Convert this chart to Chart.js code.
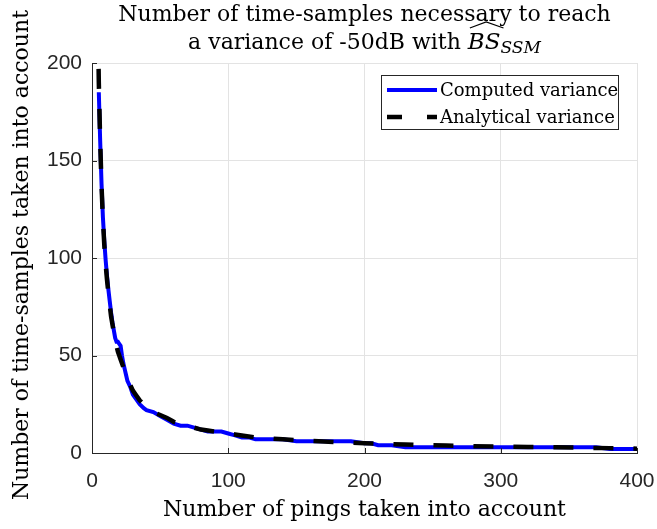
<!DOCTYPE html>
<html>
<head>
<meta charset="utf-8">
<script src="https://cdn.jsdelivr.net/npm/chart.js@4"></script>
<style>
  html, body { margin: 0; padding: 0; background: #fff; }
</style>
</head>
<body>
<canvas id="chart" width="657" height="529"></canvas>
<script>
// Datos
const pings = [4, 5, 6, 7, 8, 9, 10, 11, 12, 13, 14, 15, 16, 17, 18, 19, 20,
  21, 22, 23, 24, 25, 26, 28, 30, 32, 35, 38, 40, 45, 50, 55, 60, 65, 70, 75,
  80, 85, 90, 95, 100, 105, 110, 115, 120, 130, 140, 150, 160, 170, 180, 190,
  200, 205, 210, 220, 230, 240, 260, 280, 300, 320, 340, 360, 370, 380, 390, 400];

const computedSamples = [null, 185, 160, 138, 121, 109, 99, 91, 84, 78, 72, 67, 63, 59, 57, 57, 56,
  55, 50, 46, 43, 40, 37, 34, 30, 28, 25, 23, 22, 21, 19, 17, 15, 14, 14, 13,
  12, 11, 11, 11, 10, 9, 8, 8, 7, 7, 7, 6, 6, 6, 6, 6,
  5, 5, 4, 4, 3, 3, 3, 3, 3, 3, 3, 3, 3, 2, 2, 2];

const analyticalSamples = [238, 190, 160, 137, 120, 107, 97, 89, 82, 76, 70, 66, 62, 58, 55, 52, 50,
  48, 46, 44, 42, 40, 38, 35, 32, 30, 27, 25, 23, 21, 19.5, 18, 16, 15, 14, 13,
  12, 11.5, 11, 10.5, 10, 9.5, 9, 8.5, 8, 7.5, 7, 6.6, 6.2, 5.9, 5.6, 5.3,
  5, 4.9, 4.8, 4.5, 4.3, 4.1, 3.8, 3.5, 3.3, 3.1, 2.9, 2.7, 2.6, 2.5, 2.4, 2.2];

const xTicks = [0, 100, 200, 300, 400];
const yTicks = [0, 50, 100, 150, 200];
const seriesLabels = ['Computed variance', 'Analytical variance'];

const xTitle = 'Number of pings taken into account';
const yTitle = 'Number of time-samples taken into account';
const titleLine1 = 'Number of time-samples necessary to reach';
const titleLine2 = 'a variance of -50dB with ';

const SERIF = '"DejaVu Serif", serif';
const AXIS = '#262626';

const toPoints = (xs, ys) => xs.map((x, i) => ({ x, y: ys[i] })).filter(p => p.y !== null);

// Textos, ticks interiores y leyenda dibujados a mano (estilo MATLAB)
const decorations = {
  id: 'decorations',
  afterDraw(chart) {
    const { ctx, chartArea: a, scales } = chart;
    ctx.save();

    // ticks hacia dentro
    ctx.strokeStyle = AXIS;
    ctx.lineWidth = 1;
    ctx.beginPath();
    xTicks.forEach(v => {
      const px = Math.round(scales.x.getPixelForValue(v)) + 0.5;
      ctx.moveTo(px, a.bottom); ctx.lineTo(px, a.bottom - 5);
    });
    yTicks.forEach(v => {
      const py = Math.round(scales.y.getPixelForValue(v)) + 0.5;
      ctx.moveTo(a.left, py); ctx.lineTo(a.left + 5, py);
    });
    ctx.stroke();

    ctx.fillStyle = '#000';
    ctx.textBaseline = 'alphabetic';
    ctx.textAlign = 'center';
    ctx.font = '22px ' + SERIF;
    const cx = (a.left + a.right) / 2;

    // título del eje x
    ctx.fillText(xTitle, cx, 516);

    // título del eje y (rotado)
    ctx.save();
    ctx.translate(28, 255);
    ctx.rotate(-Math.PI / 2);
    ctx.fillText(yTitle, 0, 0);
    ctx.restore();

    // título principal, línea 1
    ctx.fillText(titleLine1, cx, 21);

    // línea 2 con \widehat{BS}_{SSM}
    ctx.textAlign = 'left';
    const base = 49;
    const w1 = ctx.measureText(titleLine2).width;
    ctx.font = 'italic 23px ' + SERIF;
    const w2 = ctx.measureText('BS').width;
    ctx.font = 'italic 17px ' + SERIF;
    const w3 = ctx.measureText('SSM').width;
    let x = cx - (w1 + w2 + w3) / 2;
    ctx.font = '22px ' + SERIF;
    ctx.fillText(titleLine2, x, base);
    x += w1;
    ctx.font = 'italic 23px ' + SERIF;
    ctx.fillText('BS', x, base);
    ctx.beginPath();
    ctx.lineWidth = 1.2;
    ctx.strokeStyle = '#000';
    ctx.moveTo(x + 2, base - 21);
    ctx.lineTo(x + w2 / 2 + 2, base - 27);
    ctx.lineTo(x + w2 + 3, base - 21);
    ctx.stroke();
    x += w2;
    ctx.font = 'italic 17px ' + SERIF;
    ctx.fillText('SSM', x, base + 4);

    // leyenda
    const lx = 381.5, ly = 75.5, lw = 237, lh = 54;
    ctx.fillStyle = '#fff';
    ctx.fillRect(lx, ly, lw, lh);
    ctx.strokeStyle = AXIS;
    ctx.lineWidth = 1;
    ctx.strokeRect(lx, ly, lw, lh);
    ctx.font = '18px ' + SERIF;
    ctx.fillStyle = '#000';
    chart.data.datasets.forEach((ds, i) => {
      const y = 90 + i * 27;
      ctx.beginPath();
      ctx.strokeStyle = ds.borderColor;
      ctx.lineWidth = ds.borderWidth;
      ctx.setLineDash(ds.borderDash ? [15, 25] : []);
      ctx.moveTo(387, y);
      ctx.lineTo(437, y);
      ctx.stroke();
      ctx.setLineDash([]);
      ctx.fillText(ds.label, 440, y + 6);
    });

    ctx.restore();
  }
};

new Chart(document.getElementById('chart'), {
  type: 'line',
  data: {
    datasets: [
      {
        label: seriesLabels[0],
        data: toPoints(pings, computedSamples),
        borderColor: '#0000ff',
        borderWidth: 4,
        pointRadius: 0,
        tension: 0,
        order: 1
      },
      {
        label: seriesLabels[1],
        data: toPoints(pings, analyticalSamples),
        borderColor: '#000000',
        borderWidth: 4.5,
        borderDash: [20, 20],
        pointRadius: 0,
        tension: 0,
        order: 0
      }
    ]
  },
  options: {
    responsive: false,
    animation: false,
    devicePixelRatio: 1,
    layout: { padding: { top: 63, right: 20, left: 0, bottom: 0 } },
    plugins: {
      legend: { display: false },
      title: { display: false },
      tooltip: { enabled: false }
    },
    scales: {
      x: {
        type: 'linear',
        min: 0,
        max: 400,
        // alto fijo y sin relleno extra para que el área quede como en el original
        afterFit: s => { s.height = 76; s.paddingLeft = 0; s.paddingRight = 0; },
        afterBuildTicks: s => { s.ticks = xTicks.map(v => ({ value: v })); },
        grid: { color: '#e3e3e3', drawTicks: false },
        border: { color: AXIS, width: 1 },
        ticks: { color: AXIS, padding: 16, maxRotation: 0, font: { family: 'Liberation Sans', size: 21 } }
      },
      y: {
        type: 'linear',
        min: 0,
        max: 200,
        afterFit: s => { s.width = 92; s.paddingTop = 0; s.paddingBottom = 0; },
        afterBuildTicks: s => { s.ticks = yTicks.map(v => ({ value: v })); },
        grid: { color: '#e3e3e3', drawTicks: false },
        border: { color: AXIS, width: 1 },
        ticks: { color: AXIS, padding: 10, font: { family: 'Liberation Sans', size: 21 } }
      }
    }
  },
  plugins: [decorations]
});
</script>
</body>
</html>
